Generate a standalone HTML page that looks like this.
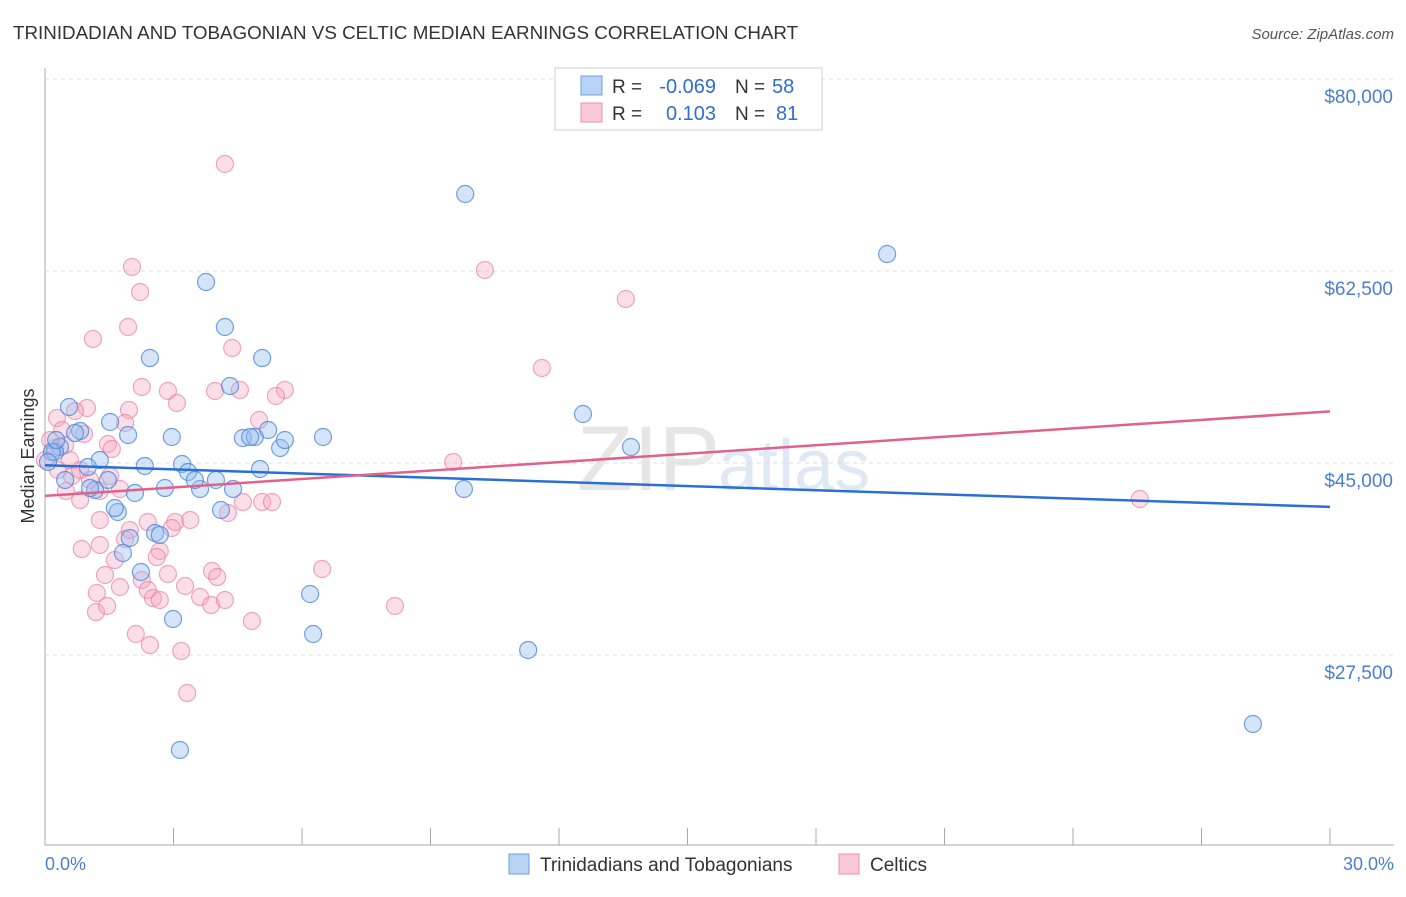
<!DOCTYPE html>
<html><head><meta charset="utf-8"><style>
body{margin:0;background:#fff;font-family:"Liberation Sans",sans-serif}
svg text{font-family:"Liberation Sans",sans-serif}
</style></head><body>
<svg id="c" width="1406" height="892" xmlns="http://www.w3.org/2000/svg">
<text x="13" y="39" font-size="18.8" fill="#333">TRINIDADIAN AND TOBAGONIAN VS CELTIC MEDIAN EARNINGS CORRELATION CHART</text>
<text x="1394" y="39" font-size="15" fill="#555" font-style="italic" text-anchor="end">Source: ZipAtlas.com</text>
<text x="720" y="490" font-size="92" fill="#e6e6e6" font-family="Liberation Serif" text-anchor="end">ZIP</text>
<text x="718" y="490" font-size="72" fill="#dfe9f6">atlas</text>
<line x1="45" y1="68" x2="45" y2="845" stroke="#aaa"/>
<line x1="45" y1="845" x2="1394" y2="845" stroke="#aaa"/>
<text transform="translate(34,456) rotate(-90)" font-size="18" fill="#333" text-anchor="middle">Median Earnings</text>
<text x="45" y="870" font-size="18" fill="#4a7fd0">0.0%</text>
<text x="1394" y="870" font-size="18" fill="#4a7fd0" text-anchor="end">30.0%</text>
<g id="grid"></g><g id="pts"></g><g id="lines"></g>
<g>
<rect x="555" y="68" width="267" height="62" fill="#fff" stroke="#ccc"/>
<rect x="581" y="76" width="21" height="19" fill="#b9d3f5" stroke="#6a9fe0"/>
<rect x="581" y="103" width="21" height="19" fill="#f9c8d7" stroke="#e890ae"/>
<text x="612" y="93" font-size="19" fill="#333">R =</text>
<text x="716" y="93" font-size="20" fill="#2f6fd0" text-anchor="end">-0.069</text>
<text x="735" y="93" font-size="19" fill="#333">N =</text>
<text x="772" y="93" font-size="20" fill="#2f6fd0">58</text>
<text x="612" y="120" font-size="19" fill="#333">R =</text>
<text x="716" y="120" font-size="20" fill="#2f6fd0" text-anchor="end">0.103</text>
<text x="735" y="120" font-size="19" fill="#333">N =</text>
<text x="776" y="120" font-size="20" fill="#2f6fd0">81</text>
</g>
<g>
<rect x="509" y="854" width="20" height="20" fill="#b9d3f5" stroke="#6a9fe0"/>
<text x="540" y="871" font-size="19" fill="#333">Trinidadians and Tobagonians</text>
<rect x="839" y="854" width="20" height="20" fill="#f9c8d7" stroke="#e890ae"/>
<text x="870" y="871" font-size="19" fill="#333">Celtics</text>
</g>
</svg>
<script>
const yTicks=[80000,62500,45000,27500];
const yTickLabels=["$80,000","$62,500","$45,000","$27,500"];
const xTicks=[0,3,6,9,12,15,18,21,24,27,30];
const bluePx=[[69,407],[110,422],[128,435],[80,431],[60,447],[55,452],[100,460],[88,467],[65,480],[95,490],[108,480],[118,512],[135,493],[150,358],[145,466],[172,437],[182,464],[188,472],[165,488],[200,489],[206,282],[225,327],[230,386],[216,480],[221,510],[233,489],[243,438],[255,437],[262,358],[260,469],[268,430],[280,448],[285,440],[323,437],[155,533],[130,538],[123,553],[141,572],[173,619],[180,750],[310,594],[313,634],[465,194],[464,489],[528,650],[583,414],[631,447],[887,254],[1253,724],[52,452],[75,433],[90,488],[115,508],[160,535],[195,480],[250,437],[56,440],[48,462]];
const pinkPx=[[225,164],[132,267],[140,292],[128,327],[93,339],[232,348],[142,387],[168,391],[177,403],[215,391],[285,390],[276,396],[129,410],[87,408],[75,411],[57,418],[62,430],[84,434],[108,444],[112,449],[55,448],[70,460],[72,476],[66,491],[80,500],[100,491],[120,489],[110,476],[125,423],[259,420],[243,502],[262,502],[272,502],[228,513],[148,522],[175,522],[172,528],[160,551],[157,557],[82,549],[100,545],[125,539],[105,575],[142,580],[168,574],[212,571],[217,577],[97,593],[120,587],[148,590],[153,598],[185,586],[200,597],[211,605],[96,612],[107,606],[136,634],[150,645],[181,651],[252,621],[187,693],[322,569],[395,606],[453,462],[485,270],[542,368],[626,299],[1140,499],[50,440],[58,470],[90,480],[130,530],[160,600],[190,520],[45,460],[65,445],[100,520],[115,560],[225,600],[80,470],[240,390]];
const blueX=bluePx.map(p=>+((p[0]-45)/1285*30).toFixed(2));
const blueY=bluePx.map(p=>Math.round(80000-(p[1]-79)/192*17500));
const pinkX=pinkPx.map(p=>+((p[0]-45)/1285*30).toFixed(2));
const pinkY=pinkPx.map(p=>Math.round(80000-(p[1]-79)/192*17500));
const blueTrend=[44800,41000];
const pinkTrend=[42000,49700];
const sx=v=>45+v/30*1285, sy=v=>79+(80000-v)/17500*192;
const NS="http://www.w3.org/2000/svg";
function mk(t,a,p){const e=document.createElementNS(NS,t);for(const k in a)e.setAttribute(k,a[k]);p.appendChild(e);return e;}
const g=document.getElementById('grid');
yTicks.forEach((v,i)=>{
 const l=mk('line',{x1:45,x2:1394,y1:sy(v),y2:sy(v),stroke:'#ddd','stroke-dasharray':'4,4'},g);
 
 
 const t=mk('text',{x:1393,y:sy(v)+24,'font-size':19,fill:'#4a7fd0','text-anchor':'end'},g);
 t.textContent=yTickLabels[i];
 
 
});
xTicks.forEach(v=>{
 const l=mk('line',{x1:sx(v),x2:sx(v),y1:828,y2:845,stroke:'#aaa'},g);
 
 
});
const P=document.getElementById('pts');
pinkX.forEach((x,i)=>{
 const c=mk('circle',{cx:sx(x),cy:sy(pinkY[i]),r:8.5,fill:'rgba(245,160,188,0.35)',stroke:'rgba(232,130,165,0.7)','stroke-width':1.2},P);
 
 
});
blueX.forEach((x,i)=>{
 const c=mk('circle',{cx:sx(x),cy:sy(blueY[i]),r:8.5,fill:'rgba(150,190,240,0.4)',stroke:'rgba(70,130,215,0.75)','stroke-width':1.2},P);
 
 
});
const L=document.getElementById('lines');
const bl=mk('line',{x1:sx(0),y1:sy(blueTrend[0]),x2:sx(30),y2:sy(blueTrend[1]),stroke:'#2a6fd6','stroke-width':2.5},L);


const pl=mk('line',{x1:sx(0),y1:sy(pinkTrend[0]),x2:sx(30),y2:sy(pinkTrend[1]),stroke:'#e0628c','stroke-width':2.5},L);


</script>
</body></html>
